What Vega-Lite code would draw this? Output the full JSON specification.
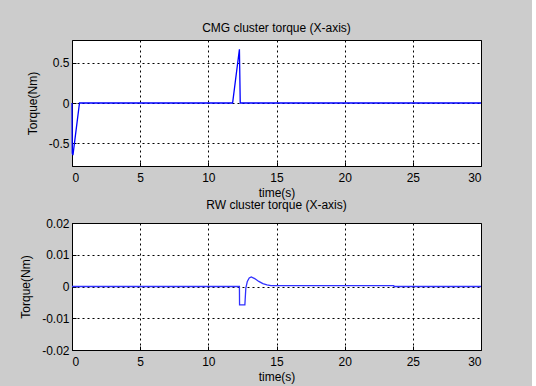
{
  "$schema": "https://vega.github.io/schema/vega-lite/v6.json",
  "background": "#cccccc",
  "padding": {"left": 19, "top": 21, "right": 47, "bottom": 3},
  "datasets": {
    "cmg": [
      {"t": 0, "torque": 0},
      {"t": 0.02, "torque": -0.62},
      {"t": 0.07, "torque": -0.645},
      {"t": 0.55, "torque": 0},
      {"t": 11.78, "torque": 0},
      {"t": 12.28, "torque": 0.665},
      {"t": 12.34, "torque": 0},
      {"t": 30, "torque": 0}
    ],
    "rw": [
      {"t": 0, "torque": 0},
      {"t": 12.28, "torque": 0},
      {"t": 12.29, "torque": -0.0058},
      {"t": 12.68, "torque": -0.0058},
      {"t": 12.75, "torque": -0.0005},
      {"t": 12.86, "torque": 0.0016},
      {"t": 13.0, "torque": 0.0027},
      {"t": 13.15, "torque": 0.003},
      {"t": 13.4, "torque": 0.0025},
      {"t": 13.7, "torque": 0.0016},
      {"t": 14.0, "torque": 0.0009},
      {"t": 14.3, "torque": 0.0005},
      {"t": 14.6, "torque": 0.0003},
      {"t": 23.6, "torque": 0.0003},
      {"t": 23.62, "torque": 0},
      {"t": 30, "torque": 0}
    ]
  },
  "config": {
    "font": "Liberation Sans",
    "view": {"stroke": "#000000", "strokeWidth": 1, "fill": "#ffffff"},
    "axis": {
      "grid": true,
      "gridColor": "#000000",
      "gridDash": [2, 3],
      "gridOpacity": 1,
      "gridWidth": 1,
      "domain": false,
      "ticks": true,
      "tickColor": "#000000",
      "tickSize": -4,
      "labelColor": "#000000",
      "labelFontSize": 12,
      "labelFont": "Liberation Sans",
      "titleFont": "Liberation Sans",
      "titleFontSize": 12,
      "titleFontWeight": "normal",
      "titleColor": "#000000"
    },
    "axisX": {"labelPadding": 10, "titlePadding": 4},
    "axisY": {"labelPadding": 7, "titlePadding": 9},
    "title": {"font": "Liberation Sans", "fontSize": 12, "fontWeight": "normal", "color": "#000000", "offset": 5},
    "line": {"color": "#0000ff"}
  },
  "spacing": -1,
  "vconcat": [
    {
      "width": 409,
      "height": 126,
      "title": "CMG cluster torque (X-axis)",
      "data": {"name": "cmg"},
      "mark": {"type": "line", "strokeWidth": 1.3, "color": "#0000ff"},
      "encoding": {
        "x": {"field": "t", "type": "quantitative", "title": "time(s)",
              "scale": {"domain": [0, 30], "nice": false, "zero": false},
              "axis": {"values": [0, 5, 10, 15, 20, 25, 30], "labelExpr": "format(datum.value, '~g')"}},
        "y": {"field": "torque", "type": "quantitative", "title": "Torque(Nm)",
              "scale": {"domain": [-0.78, 0.78], "nice": false, "zero": false},
              "axis": {"values": [-0.5, 0, 0.5], "labelExpr": "datum.value < 0 ? '-' + format(-datum.value, '~g') : format(datum.value, '~g')"}}
      }
    },
    {
      "width": 409,
      "height": 127,
      "title": "RW cluster torque (X-axis)",
      "data": {"name": "rw"},
      "mark": {"type": "line", "strokeWidth": 1.3, "color": "#3030ff"},
      "encoding": {
        "x": {"field": "t", "type": "quantitative", "title": "time(s)",
              "scale": {"domain": [0, 30], "nice": false, "zero": false},
              "axis": {"values": [0, 5, 10, 15, 20, 25, 30], "labelExpr": "format(datum.value, '~g')"}},
        "y": {"field": "torque", "type": "quantitative", "title": "Torque(Nm)",
              "scale": {"domain": [-0.02, 0.02], "nice": false, "zero": false},
              "axis": {"values": [-0.02, -0.01, 0, 0.01, 0.02], "labelExpr": "datum.value < 0 ? '-' + format(-datum.value, '~g') : format(datum.value, '~g')"}}
      }
    }
  ]
}
